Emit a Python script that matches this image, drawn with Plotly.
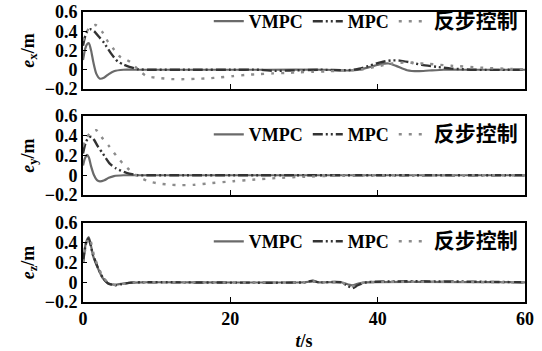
import plotly.graph_objects as go
from plotly.subplots import make_subplots

# ---------------- data ----------------
series_names = ["VMPC", "MPC", "<span style='font-size:21px'>反步控制</span>"]

# e_x panel
t_x_vmpc = [0, 0.3, 0.6, 0.8, 1.1, 1.4, 1.8, 2.3, 2.9, 3.5, 4.2, 5.5, 7, 15, 25, 33, 36, 37.5, 39, 40.5, 41.5, 42.5, 44, 45.5, 47, 49, 53, 60]
ex_vmpc = [0.1, 0.22, 0.27, 0.275, 0.2, 0.08, -0.04, -0.093, -0.08, -0.045, -0.015, 0, 0, 0, 0, 0, -0.008, 0, 0.03, 0.06, 0.065, 0.04, -0.005, -0.015, -0.008, 0, 0, 0]

t_x_mpc = [0, 0.3, 0.6, 1.0, 1.5, 2.2, 2.9, 3.8, 4.7, 5.5, 6.3, 7.5, 9, 15, 20, 24, 26, 28, 32, 36, 37.5, 39, 40.5, 41.8, 43, 44.5, 46, 48, 50, 53, 60]
ex_mpc = [0.25, 0.35, 0.4, 0.42, 0.4, 0.34, 0.275, 0.17, 0.086, 0.055, 0.03, 0.005, 0, 0, 0, 0, -0.012, -0.008, 0, -0.005, 0.01, 0.045, 0.08, 0.097, 0.095, 0.075, 0.05, 0.03, 0.012, 0, 0]

t_x_bs = [0, 0.4, 0.9, 1.7, 2.6, 3.4, 4.1, 5.0, 6.0, 6.6, 7.5, 8.6, 10.2, 12, 13.4, 15.2, 17, 18.5, 20.4, 22.2, 24, 25.8, 27.6, 29.4, 31.2, 33, 34.8, 36.5, 38, 40, 42, 43.5, 45, 47, 50, 54, 58, 60]
ex_bs = [0.3, 0.38, 0.44, 0.465, 0.395, 0.29, 0.22, 0.137, 0.1, 0.07, 0.0, -0.065, -0.085, -0.097, -0.098, -0.095, -0.089, -0.08, -0.066, -0.053, -0.045, -0.038, -0.033, -0.026, -0.022, -0.017, -0.01, -0.005, 0.005, 0.035, 0.065, 0.075, 0.07, 0.06, 0.042, 0.022, 0.008, 0.005]

# e_y panel
t_y_vmpc = [0, 0.25, 0.55, 0.8, 1.1, 1.5, 1.9, 2.3, 2.9, 3.5, 4.2, 5.5, 7, 60]
ey_vmpc = [0.1, 0.17, 0.207, 0.18, 0.09, 0.0, -0.05, -0.062, -0.05, -0.025, -0.008, 0, 0, 0]

t_y_mpc = [0, 0.4, 0.8, 1.14, 1.5, 2.04, 2.7, 3.6, 4.5, 5.9, 7.5, 9, 60]
ey_mpc = [0.22, 0.34, 0.385, 0.39, 0.36, 0.29, 0.22, 0.12, 0.07, 0.025, 0, 0, 0]

t_y_bs = [0, 0.5, 1.0, 1.8, 2.7, 3.6, 4.5, 5.4, 6.3, 7.2, 8.8, 10.4, 12, 13.4, 15, 17, 20.4, 23, 26.4, 30, 34, 38, 60]
ey_bs = [0.3, 0.38, 0.43, 0.457, 0.37, 0.29, 0.2, 0.12, 0.055, 0.0, -0.06, -0.085, -0.097, -0.1, -0.097, -0.083, -0.06, -0.045, -0.028, -0.015, -0.005, 0, 0]

# e_z panel
t_z_vmpc = [0, 0.4, 0.8, 1.36, 2.04, 2.7, 3.4, 4.3, 5.2, 6.5, 8, 30, 31.2, 32, 35, 36.5, 37.5, 38.5, 60]
ez_vmpc = [0.2, 0.4, 0.457, 0.27, 0.14, 0.04, -0.01, -0.025, -0.015, -0.003, 0, 0, 0.01, 0, 0, -0.03, -0.01, 0, 0]

t_z_mpc = [0, 0.4, 0.75, 1.36, 2.04, 2.7, 3.4, 4.4, 5.3, 6.5, 8, 30, 31.2, 32, 35, 36, 36.6, 37.3, 38.5, 60]
ez_mpc = [0.2, 0.39, 0.445, 0.28, 0.145, 0.045, -0.012, -0.03, -0.018, -0.004, 0, 0, 0.015, 0, 0, -0.04, -0.06, -0.03, 0, 0]

t_z_bs = [0, 0.45, 0.9, 1.5, 2.2, 2.9, 3.6, 4.5, 5.4, 6.7, 8.5, 30, 31.2, 32, 35, 36.5, 37.5, 38.5, 60]
ez_bs = [0.2, 0.38, 0.45, 0.27, 0.13, 0.035, -0.012, -0.028, -0.016, -0.004, 0, 0, 0.01, 0, 0, -0.04, -0.015, 0, 0]

y_tickvals = [-0.2, 0, 0.2, 0.4, 0.6]
y_ticktext = ["−0.2", "0", "0.2", "0.4", "0.6"]
x_tickvals = [0, 20, 40, 60]
x_ticktext = ["0", "20", "40", "60"]
y_titles = ["<i>e</i><sub>x</sub>/m", "<i>e</i><sub>y</sub>/m", "<i>e</i><sub>z</sub>/m"]
x_title = "<i>t</i>/s"

panels = [
    [(t_x_vmpc, ex_vmpc), (t_x_mpc, ex_mpc), (t_x_bs, ex_bs)],
    [(t_y_vmpc, ey_vmpc), (t_y_mpc, ey_mpc), (t_y_bs, ey_bs)],
    [(t_z_vmpc, ez_vmpc), (t_z_mpc, ez_mpc), (t_z_bs, ez_bs)],
]

# ---------------- styling ----------------
FONT = "Liberation Serif, Times New Roman, Noto Sans CJK SC, serif"
styles = [
    dict(color="#6a6a6a", width=2.2, dash="solid"),
    dict(color="#333333", width=2.4, dash="10px,3px,2px,3px,2px,3px"),
    dict(color="#8c8c8c", width=2.4, dash="3px,7px"),
]

fig = make_subplots(rows=3, cols=1, shared_xaxes=False, vertical_spacing=0.0)

domains = [(0.7345, 1.0), (0.369, 0.641), (0.0, 0.272)]
legend_keys = ["legend", "legend2", "legend3"]

for r, panel in enumerate(panels, start=1):
    for k, (tt, vv) in enumerate(panel):
        fig.add_trace(
            go.Scatter(
                x=tt, y=vv, mode="lines", name=series_names[k],
                line=dict(**styles[k], shape="spline", smoothing=0.6),
                legend=legend_keys[r - 1], showlegend=True,
            ),
            row=r, col=1,
        )

for r in range(1, 4):
    d = domains[r - 1]
    fig.update_yaxes(
        row=r, col=1, domain=list(d), range=[-0.2, 0.6],
        tickvals=y_tickvals, ticktext=y_ticktext,
        ticks="inside", ticklen=4, tickwidth=1.2, tickcolor="black",
        showline=True, linecolor="black", linewidth=1.6, mirror=True,
        showgrid=False, zeroline=False,
        tickfont=dict(family=FONT, size=18, color="black", weight="bold"),
        title=dict(text=y_titles[r - 1], standoff=6,
                   font=dict(family=FONT, size=18, color="black", weight="bold")),
    )
    fig.update_xaxes(
        row=r, col=1, range=[0, 60],
        tickvals=x_tickvals, ticktext=x_ticktext,
        ticks="inside", ticklen=5, tickwidth=1.2, tickcolor="black",
        showline=True, linecolor="black", linewidth=1.6, mirror=True,
        showgrid=False, zeroline=False,
        showticklabels=(r == 3),
        tickfont=dict(family=FONT, size=18, color="black", weight="bold"),
    )

fig.update_xaxes(row=3, col=1, title=dict(text=x_title, standoff=6,
                 font=dict(family=FONT, size=18, color="black", weight="bold")))

leg_common = dict(
    orientation="h", xanchor="right", yanchor="top", x=0.995,
    bgcolor="rgba(0,0,0,0)", borderwidth=0,
    font=dict(family=FONT, size=18, color="black", weight="bold"),
    itemwidth=30, tracegroupgap=0,
)
fig.update_layout(
    legend=dict(**leg_common, y=1.031),
    legend2=dict(**leg_common, y=0.641),
    legend3=dict(**leg_common, y=0.272),
)

fig.update_layout(
    width=542, height=351,
    margin=dict(l=83, r=17, t=12, b=49, autoexpand=False),
    paper_bgcolor="white", plot_bgcolor="white",
    font=dict(family=FONT, color="black"),
)

fig.write_html("out.html", config={"displayModeBar": False},
               post_script="document.body.style.margin='0';")
